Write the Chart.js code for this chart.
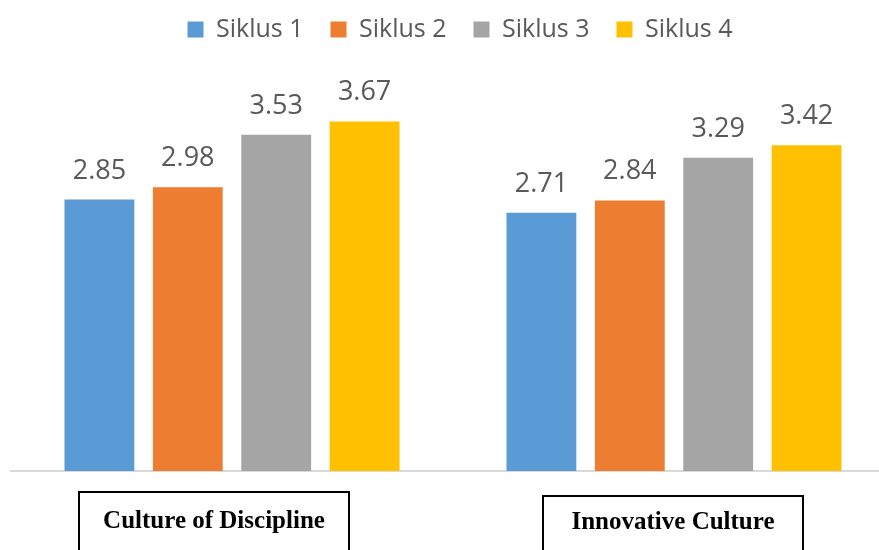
<!DOCTYPE html>
<html>
<head>
<meta charset="utf-8">
<script src="https://cdn.jsdelivr.net/npm/chart.js@4.4.1/dist/chart.umd.min.js"></script>
<style>
html,body{margin:0;padding:0;background:#fff;overflow:hidden;}
#wrap{position:relative;width:879px;height:550px;overflow:hidden;}
#c{position:absolute;left:0;top:0;}
</style>
</head>
<body>
<div id="wrap"><canvas id="c" width="900" height="550"></canvas></div>
<script>
const categories = ["Culture of Discipline", "Innovative Culture"];
const seriesNames = ["Siklus 1", "Siklus 2", "Siklus 3", "Siklus 4"];
const siklus1 = [2.85, 2.71];
const siklus2 = [2.98, 2.84];
const siklus3 = [3.53, 3.29];
const siklus4 = [3.67, 3.42];
const colors = ["#5B9BD5", "#ED7D31", "#A5A5A5", "#FFC000"];

const legendSpacer = {
  id: 'legendSpacer',
  beforeInit(chart, args, opts) {
    const lg = chart.legend;
    if (!lg || lg._spacerPatched) return;
    const orig = lg.fit.bind(lg);
    lg.fit = function () { orig(); this.height = opts.height; };
    lg._spacerPatched = true;
  },
  afterLayout(chart, args, opts) {
    const lg = chart.legend;
    if (!lg) return;
    lg.left += opts.offsetX;
    lg.right += opts.offsetX;
  }
};

const valueLabels = {
  id: 'valueLabels',
  afterDatasetsDraw(chart) {
    const ctx = chart.ctx;
    ctx.save();
    ctx.font = '27px "Open Sans"';
    ctx.fillStyle = '#595959';
    ctx.textAlign = 'center';
    ctx.textBaseline = 'alphabetic';
    chart.data.datasets.forEach((ds, di) => {
      const meta = chart.getDatasetMeta(di);
      meta.data.forEach((bar, i) => {
        ctx.fillText(ds.data[i].toFixed(2), bar.x, bar.y - 21);
      });
    });
    ctx.restore();
  }
};

const boxedLabels = {
  id: 'boxedLabels',
  afterDraw(chart, args, opts) {
    const ctx = chart.ctx;
    const xs = chart.scales.x;
    ctx.save();
    ctx.font = 'bold 25px "Liberation Serif"';
    ctx.fillStyle = '#000';
    ctx.strokeStyle = '#000';
    ctx.lineWidth = 2;
    ctx.textAlign = 'center';
    ctx.textBaseline = 'middle';
    chart.data.labels.forEach((lab, i) => {
      const cx = xs.getPixelForValue(i) + opts.dx[i];
      const w = opts.w[i];
      const top = opts.top[i];
      ctx.strokeRect(cx - w / 2, top, w, 80);
      ctx.fillText(lab, cx, opts.textY[i]);
    });
    ctx.restore();
  }
};

new Chart(document.getElementById('c'), {
  type: 'bar',
  data: {
    labels: categories,
    datasets: [siklus1, siklus2, siklus3, siklus4].map((d, i) => ({
      label: seriesNames[i],
      data: d,
      backgroundColor: colors[i],
      categoryPercentage: 0.8,
      barPercentage: 0.79
    }))
  },
  options: {
    responsive: false,
    animation: false,
    layout: { padding: { left: 11, right: 5, top: -10, bottom: 71 } },
    scales: {
      x: {
        grid: { display: false },
        ticks: { display: false },
        border: { display: true, color: '#D9D9D9', width: 2 }
      },
      y: {
        display: false,
        min: 0,
        max: 4
      }
    },
    plugins: {
      legend: {
        position: 'top',
        labels: {
          boxWidth: 16,
          boxHeight: 16,
          padding: 27,
          color: '#595959',
          font: { family: '"Open Sans"', size: 25 }
        }
      },
      legendSpacer: { height: 100, offsetX: 7 },
      tooltip: { enabled: false },
      boxedLabels: {
        dx: [-18, -1],
        w: [270, 260],
        top: [492, 496],
        textY: [522, 523]
      }
    }
  },
  plugins: [legendSpacer, valueLabels, boxedLabels]
});
</script>
</body>
</html>
